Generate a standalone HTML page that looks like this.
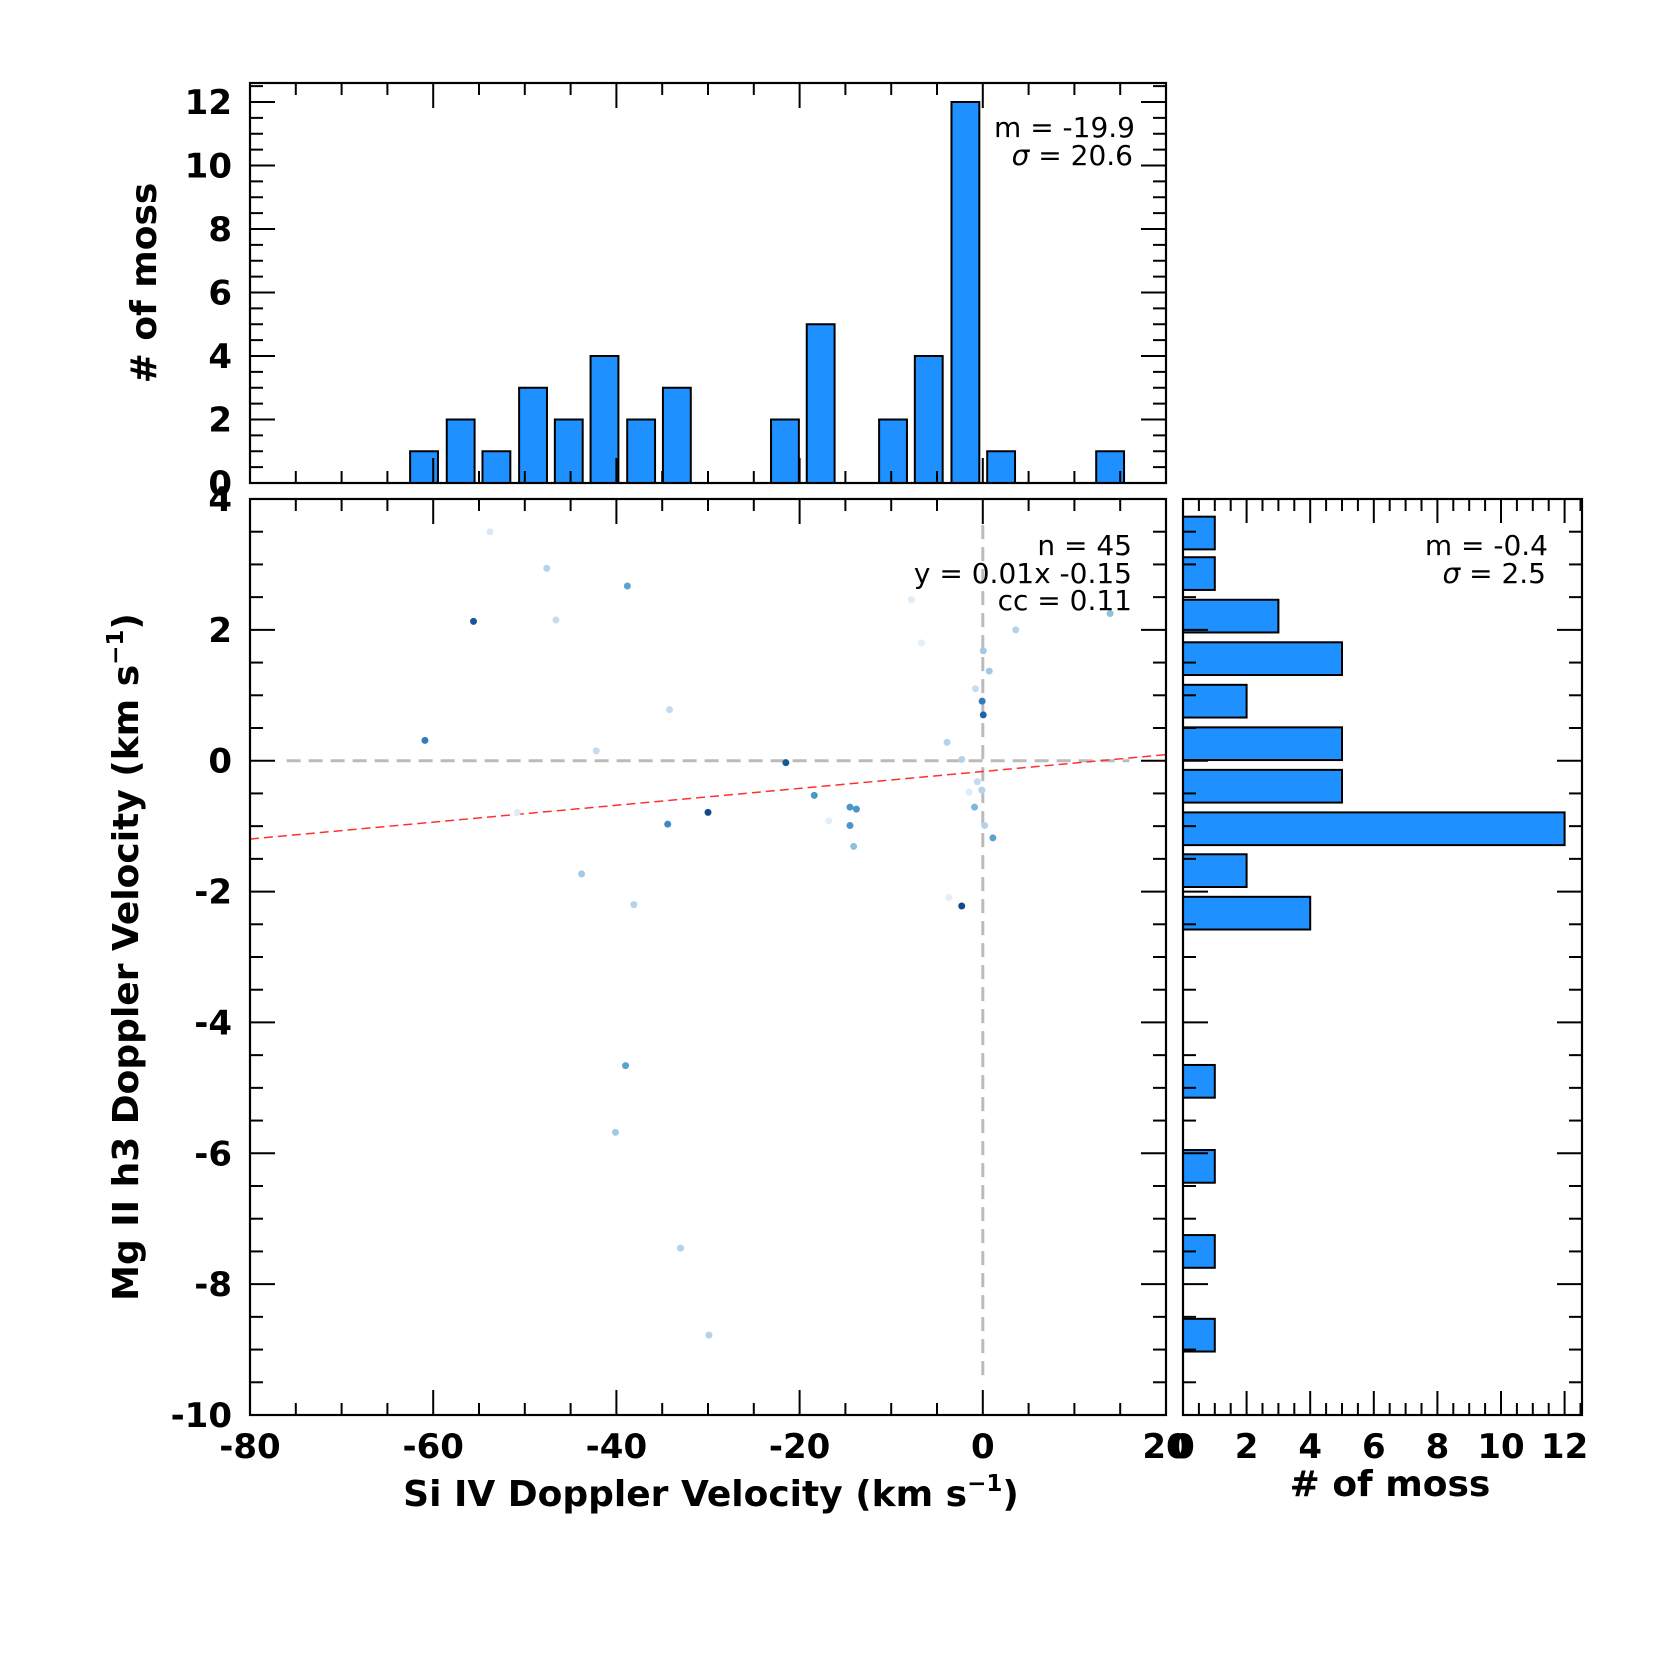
<!DOCTYPE html>
<html><head><meta charset="utf-8">
<style>
html,body{margin:0;padding:0;background:#fff;}
svg{display:block;font-family:"DejaVu Sans","Liberation Sans",sans-serif;}
.tl{font-weight:bold;font-size:34px;}
.at{font-weight:bold;font-size:36px;}
.an{font-size:28px;}
</style></head>
<body>
<svg id="fig" width="1665" height="1665" viewBox="0 0 1665 1665" xmlns="http://www.w3.org/2000/svg"></svg>
<script>
// ---- data ----
const topBinCenters = [-61.0,-57.0,-53.1,-49.1,-45.2,-41.3,-37.3,-33.4,-21.6,-17.7,-9.8,-5.9,-1.9,2.0,13.9];
const topCounts = [1,2,1,3,2,4,2,3,2,5,2,4,12,1,1];
const rightBinCenters = [3.48,2.86,2.21,1.56,0.91,0.26,-0.39,-1.04,-1.68,-2.33,-4.90,-6.20,-7.50,-8.78];
const rightCounts = [1,1,3,5,2,5,5,12,2,4,1,1,1,1];
const siVel = [-53.8,-47.6,-38.8,-55.6,-46.6,-7.8,-6.7,13.9,3.6,0.05,0.7,-0.8,-0.07,0.05,-34.2,-60.9,-42.2,-3.9,-21.5,-2.3,-0.6,-1.5,-0.1,-18.4,-14.5,-13.8,-0.9,-30.0,-34.4,-50.8,-16.8,-14.5,0.2,1.1,-14.1,-43.8,-38.1,-3.7,-2.3,-39.0,-40.1,-33.0,-29.9];
const mgVel = [3.5,2.94,2.67,2.13,2.15,2.46,1.8,2.25,2.0,1.68,1.37,1.1,0.91,0.7,0.78,0.31,0.15,0.28,-0.03,0.02,-0.32,-0.48,-0.45,-0.53,-0.71,-0.74,-0.71,-0.79,-0.97,-0.79,-0.92,-0.99,-0.99,-1.18,-1.31,-1.73,-2.2,-2.09,-2.22,-4.66,-5.68,-7.45,-8.78];
const shade = [0.15,0.3,0.55,0.85,0.25,0.12,0.1,0.4,0.3,0.35,0.35,0.25,0.7,0.8,0.25,0.7,0.25,0.3,0.85,0.3,0.25,0.12,0.3,0.6,0.6,0.6,0.45,0.9,0.65,0.12,0.1,0.6,0.3,0.55,0.4,0.35,0.3,0.1,0.9,0.55,0.35,0.3,0.3];
const fitSlope = 0.0129;
const fitIntercept = -0.165;
const xTicks = [-80,-60,-40,-20,0,20];
const yTicks = [4,2,0,-2,-4,-6,-8,-10];
const cntTicks = [0,2,4,6,8,10,12];

// ---- layout ----
const NS="http://www.w3.org/2000/svg";
const svg=document.getElementById('fig');
function el(tag,attrs,parent){const e=document.createElementNS(NS,tag);for(const k in attrs)e.setAttribute(k,attrs[k]);(parent||svg).appendChild(e);return e;}
const SC={l:250,r:1166,t:499,b:1415};
const TH={l:250,r:1166,t:83,b:483};
const RH={l:1183,r:1582,t:499,b:1415};
const sx=v=>SC.l+(v+80)/100*(SC.r-SC.l);
const sy=v=>SC.t+(4-v)/14*(SC.b-SC.t);
const ty=v=>TH.b-v*31.75;
const rx=v=>RH.l+v*31.8;

function blues(t){const st=[[247,251,255],[198,219,239],[107,174,214],[33,113,181],[8,48,107]];
 t=Math.max(0,Math.min(1,t))*4;const i=Math.min(3,Math.floor(t)),f=t-i;
 const c=st[i].map((a,k)=>Math.round(a+(st[i+1][k]-a)*f));return `rgb(${c})`;}

// ---- top histogram ----
const gT=el('g',{});


topBinCenters.forEach((c,i)=>{
 const b=el('rect',{x:sx(c-1.52),y:ty(topCounts[i]),width:sx(c+1.52)-sx(c-1.52),height:ty(0)-ty(topCounts[i]),fill:'#1e90ff',stroke:'#000','stroke-width':2},gT);
 
 
});
for(let v=-75;v<20;v+=5){const L=(v%20===0)?25:12;
 el('line',{x1:sx(v),x2:sx(v),y1:TH.t,y2:TH.t+L,stroke:'#000','stroke-width':2},gT);
 el('line',{x1:sx(v),x2:sx(v),y1:TH.b,y2:TH.b-L,stroke:'#000','stroke-width':2},gT);}
for(let v=0.5;v<12.6;v+=0.5){const L=(Math.abs(v%2)<1e-6)?25:13;
 el('line',{x1:TH.l,x2:TH.l+L,y1:ty(v),y2:ty(v),stroke:'#000','stroke-width':2},gT);
 el('line',{x1:TH.r,x2:TH.r-L,y1:ty(v),y2:ty(v),stroke:'#000','stroke-width':2},gT);}
cntTicks.forEach(v=>{const t=el('text',{x:232,y:ty(v)+12,'text-anchor':'end',class:'tl'},gT);t.textContent=v;
 });
el('rect',{x:TH.l,y:TH.t,width:TH.r-TH.l,height:TH.b-TH.t,fill:'none',stroke:'#000','stroke-width':2.2},gT);
const ta1=el('text',{x:1135,y:137,'text-anchor':'end',class:'an'},gT);ta1.textContent='m = -19.9';

const ta2=el('text',{x:1133,y:165,'text-anchor':'end',class:'an'},gT);ta2.innerHTML='<tspan font-style="italic">σ</tspan> = 20.6';

const tyl=el('text',{x:0,y:0,'text-anchor':'middle',class:'at',transform:'translate(156,283) rotate(-90)'},gT);tyl.textContent='# of moss';


// ---- scatter ----
const gS=el('g',{});


el('line',{x1:sx(-76),x2:sx(16),y1:sy(0),y2:sy(0),stroke:'#bbb','stroke-width':3,'stroke-dasharray':'14,8'},gS);
el('line',{x1:sx(0),x2:sx(0),y1:sy(3.6),y2:sy(-9.5),stroke:'#bbb','stroke-width':3,'stroke-dasharray':'14,8'},gS);
const fit=el('line',{x1:sx(-80),y1:sy(fitSlope*-80+fitIntercept),x2:sx(20),y2:sy(fitSlope*20+fitIntercept),stroke:'#ff3030','stroke-width':1.5,'stroke-dasharray':'9,5'},gS);

siVel.forEach((x,i)=>{const p=el('circle',{cx:sx(x),cy:sy(mgVel[i]),r:3.5,fill:blues(shade[i])},gS);
 });
for(let v=-75;v<20;v+=5){const L=(v%20===0)?25:12;
 el('line',{x1:sx(v),x2:sx(v),y1:SC.t,y2:SC.t+L,stroke:'#000','stroke-width':2},gS);
 el('line',{x1:sx(v),x2:sx(v),y1:SC.b,y2:SC.b-L,stroke:'#000','stroke-width':2},gS);}
for(let v=-9.5;v<4;v+=0.5){const L=(Math.abs(v%2)<1e-6)?25:13;
 el('line',{x1:SC.l,x2:SC.l+L,y1:sy(v),y2:sy(v),stroke:'#000','stroke-width':2},gS);
 el('line',{x1:SC.r,x2:SC.r-L,y1:sy(v),y2:sy(v),stroke:'#000','stroke-width':2},gS);}
el('rect',{x:SC.l,y:SC.t,width:SC.r-SC.l,height:SC.b-SC.t,fill:'none',stroke:'#000','stroke-width':2.2},gS);
xTicks.forEach(v=>{const t=el('text',{x:sx(v),y:1458,'text-anchor':'middle',class:'tl'},gS);t.textContent=v;
 });
yTicks.forEach(v=>{const t=el('text',{x:232,y:sy(v)+12,'text-anchor':'end',class:'tl'},gS);t.textContent=v;
 });
[['n = 45',555,'sample-count'],['y = 0.01x -0.15',583,'fit-equation'],['cc = 0.11',610,'correlation-coefficient']].forEach(a=>{
 const t=el('text',{x:1132,y:a[1],'text-anchor':'end',class:'an'},gS);t.textContent=a[0];
 });
const xl=el('text',{x:711,y:1506,'text-anchor':'middle',class:'at'},gS);
xl.innerHTML='Si IV Doppler Velocity (km s<tspan dy="-15" font-size="23">−1</tspan><tspan dy="15">)</tspan>';

const yl=el('text',{x:0,y:0,'text-anchor':'middle',class:'at',transform:'translate(138,957) rotate(-90)'},gS);
yl.innerHTML='Mg II h3 Doppler Velocity (km s<tspan dy="-15" font-size="23">−1</tspan><tspan dy="15">)</tspan>';


// ---- right histogram ----
const gR=el('g',{});


rightBinCenters.forEach((c,i)=>{
 const b=el('rect',{x:rx(0),y:sy(c+0.25),width:rx(rightCounts[i])-rx(0),height:sy(c-0.25)-sy(c+0.25),fill:'#1e90ff',stroke:'#000','stroke-width':2},gR);
 
 
});
for(let v=0.5;v<12.6;v+=0.5){const L=(Math.abs(v%2)<1e-6)?24:12;
 el('line',{x1:rx(v),x2:rx(v),y1:RH.t,y2:RH.t+L,stroke:'#000','stroke-width':2},gR);
 el('line',{x1:rx(v),x2:rx(v),y1:RH.b,y2:RH.b-L,stroke:'#000','stroke-width':2},gR);}
for(let v=-9.5;v<4;v+=0.5){const L=(Math.abs(v%2)<1e-6)?25:13;
 el('line',{x1:RH.l,x2:RH.l+L,y1:sy(v),y2:sy(v),stroke:'#000','stroke-width':2},gR);
 el('line',{x1:RH.r,x2:RH.r-L,y1:sy(v),y2:sy(v),stroke:'#000','stroke-width':2},gR);}
el('rect',{x:RH.l,y:RH.t,width:RH.r-RH.l,height:RH.b-RH.t,fill:'none',stroke:'#000','stroke-width':2.2},gR);
cntTicks.forEach(v=>{const t=el('text',{x:rx(v),y:1458,'text-anchor':'middle',class:'tl'},gR);t.textContent=v;
 });
const ra1=el('text',{x:1548,y:555,'text-anchor':'end',class:'an'},gR);ra1.textContent='m = -0.4';

const ra2=el('text',{x:1546,y:583,'text-anchor':'end',class:'an'},gR);ra2.innerHTML='<tspan font-style="italic">σ</tspan> = 2.5';

const rxl=el('text',{x:1390,y:1496,'text-anchor':'middle',class:'at'},gR);rxl.textContent='# of moss';

</script>
</body></html>
